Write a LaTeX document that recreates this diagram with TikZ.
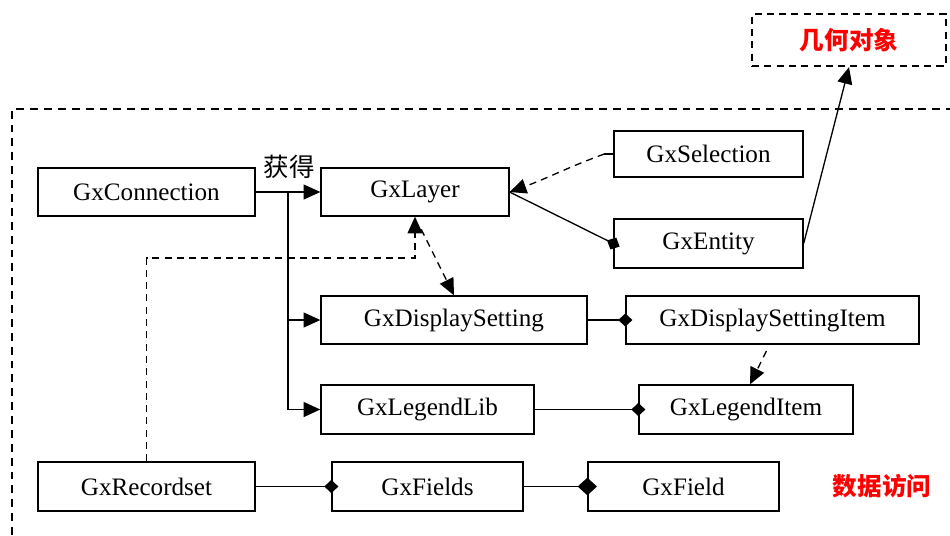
\documentclass[tikz,border=0pt]{standalone}
\usepackage{fontspec}
\setmainfont{Liberation Serif}
\newfontfamily\cjk{Noto Sans CJK SC}
\usetikzlibrary{arrows.meta,calc}
\begin{document}
\begin{tikzpicture}[x=0.02cm,y=-0.02cm,
  box/.style={draw,line width=0.75pt,inner sep=0pt,font=\fontsize{14.3}{16}\selectfont},
  wh/.style 2 args={minimum width=#1*0.02cm,minimum height=#2*0.02cm},
  link/.style={line width=0.75pt},
  tri/.style={link,-{Triangle[length=9.5pt,width=8.5pt]}},
  dtri/.style={link,dashed,dash pattern=on 4pt off 3pt,-{Triangle[length=9.5pt,width=8.5pt]}},
  dia/.style={link,-{Diamond[length=8pt,width=7.5pt]},shorten >=-4pt},
  bigdia/.style={link,-{Diamond[length=11pt,width=10pt]},shorten >=-5.5pt},
  region/.style={line width=0.8pt,dash pattern=on 4.5pt off 3.4pt},
  redlbl/.style={text=red,font=\cjk\bfseries\fontsize{14}{16}\selectfont,inner sep=0pt}
]
\useasboundingbox (0,0) rectangle (950,535);
% outer dashed region
\draw[region] (12,535) -- (12,109) -- (950,109);
% boxes
\node[box,wh={217}{48}] (conn) at (146.5,192) {GxConnection};
\node[box,wh={188}{48}] (layer) at (415,192) {GxLayer};
\node[box,wh={189}{46}] (sel) at (708.5,154) {GxSelection};
\node[box,wh={189}{49}] (ent) at (708.5,243.5) {GxEntity};
\node[box,wh={194}{52},line width=1.3pt,dash pattern=on 4pt off 3pt] (geo) at (849,40) {};
\node[redlbl] (geolbl) at (849,40) {几何对象};
\node[box,wh={266}{48}] (disp) at (454,320) {GxDisplaySetting};
\node[box,wh={293}{48}] (dsi) at (772.5,320) {GxDisplaySettingItem};
\node[box,wh={213}{49}] (leglib) at (427.5,409.5) {GxLegendLib};
\node[box,wh={214}{49}] (legitem) at (746,409.5) {GxLegendItem};
\node[box,wh={217}{49}] (rec) at (146.5,486.5) {GxRecordset};
\node[box,wh={191}{49}] (fields) at (427.5,486.5) {GxFields};
\node[box,wh={191}{49}] (field) at (683.5,486.5) {GxField};
% labels
\node[font=\cjk\fontsize{14.5}{16}\selectfont,inner sep=0pt] (get) at (289,167) {获得};
\node[redlbl] (dataacc) at (882,486) {数据访问};
% connectors
\coordinate (j) at ($(conn.east)!0.5!(layer.west)$);
\draw[tri] (conn.east) -- (layer.west);
\draw[tri] (j) |- (disp.west);
\draw[tri] (j) |- (leglib.west);
\coordinate (bend) at (415,258);
\draw[dtri] (rec.north) |- (bend) -- (layer.south);
\draw[dtri,shorten <=8pt] (layer.south) -- (disp.north);
\coordinate (selstub) at ($(sel.west)+(-9,0)$);
\draw[link] (sel.west) -- (selstub);
\draw[dtri] (selstub) to[out=200,in=20] (layer.east);
\draw[dia] (layer.east) -- (ent.west);
\draw[tri] (ent.east) -- (geo.south);
\draw[dia] (disp.east) -- (dsi.west);
\draw[dtri,shorten <=4pt] ($(dsi.south)+(-3,0)$) -- ($(legitem.north)+(4,0)$);
\draw[dia] (leglib.east) -- (legitem.west);
\draw[dia] (rec.east) -- (fields.west);
\draw[bigdia] (fields.east) -- (field.west);
\end{tikzpicture}
\end{document}
